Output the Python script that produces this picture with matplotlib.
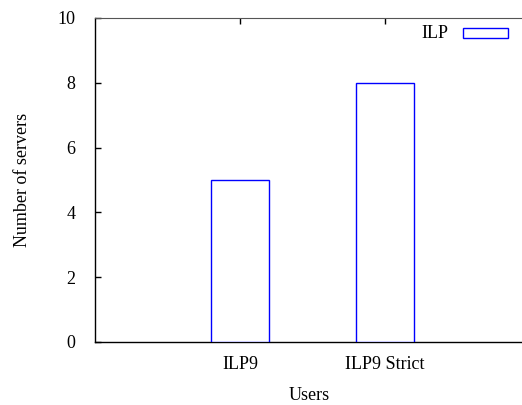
import matplotlib
matplotlib.use("Agg")
import matplotlib.pyplot as plt
from matplotlib.patches import Rectangle

categories = ["ILP9", "ILP9 Strict"]
values = [5, 8]
series_name = "ILP"
yticks = [0, 2, 4, 6, 8, 10]

plt.rcParams['font.family'] = ['Liberation Serif', 'DejaVu Serif']

W, H = 522, 405
fig = plt.figure(figsize=(W / 100, H / 100), dpi=100)
left, right, bottom, top = 95, 523, 342, 18
ax = fig.add_axes([left / W, (H - bottom) / H, (right - left) / W, (bottom - top) / H])

pos = [1, 2]
ax.bar(pos, values, width=0.4, facecolor='white', edgecolor='#0000ff', linewidth=1.0, zorder=3)

ax.set_xlim(0, 2.95)
ax.set_ylim(0, 10)
ax.set_yticks(yticks)
ax.set_xticks(pos)
ax.set_xticklabels(categories)
ax.tick_params(axis='both', direction='in', length=4, width=1, labelsize=13, colors='black')
ax.tick_params(axis='x', top=True, bottom=False, pad=10)
ax.tick_params(axis='y', pad=14)

ax.spines['right'].set_visible(False)
ax.spines['top'].set_color('#555555')
for s in ['left', 'bottom']:
    ax.spines[s].set_color('black')
    ax.spines[s].set_linewidth(1.0)

ax.set_ylabel("Number of servers", fontsize=13, labelpad=19)
ax.set_xlabel("Users", fontsize=13, labelpad=10)

# legend
fig.text(448 / W, 1 - 33 / H, series_name, fontsize=13, ha='right', va='center')
fig.patches.append(Rectangle((463 / W, 1 - 37.5 / H), 45 / W, 9 / H, transform=fig.transFigure,
                             facecolor='white', edgecolor='#0000ff', linewidth=1.0))

fig.savefig("out.png", dpi=100)
